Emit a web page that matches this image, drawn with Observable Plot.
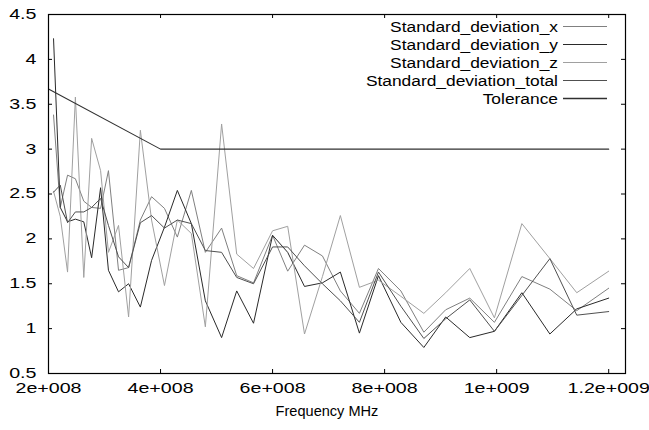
<!DOCTYPE html>
<html>
<head>
<meta charset="utf-8">
<script src="https://cdn.jsdelivr.net/npm/d3@7"></script>
<script src="https://cdn.jsdelivr.net/npm/@observablehq/plot@0.6"></script>
<style>
  html, body { margin: 0; padding: 0; background: #fff; }
  #chart { width: 649px; height: 430px; overflow: hidden; }
</style>
</head>
<body>
<div id="chart"></div>
<script>
// Frequencies (Hz)
const freq = [2.09e8, 2.21e8, 2.34e8, 2.48e8, 2.63e8, 2.77e8, 2.93e8, 3.07e8, 3.25e8, 3.43e8,
  3.64e8, 3.84e8, 4.07e8, 4.30e8, 4.55e8, 4.80e8, 5.09e8, 5.36e8, 5.66e8, 6.00e8,
  6.27e8, 6.57e8, 6.89e8, 7.21e8, 7.55e8, 7.89e8, 8.29e8, 8.70e8, 9.09e8, 9.52e8,
  9.96e8, 1.045e9, 1.095e9, 1.143e9, 1.2e9];
const sdX = [3.38, 2.35, 2.71, 2.67, 2.42, 2.35, 2.34, 2.76, 1.65, 1.68,
  2.21, 2.47, 2.34, 2.02, 2.54, 1.85, 2.12, 1.59, 1.51, 2.04,
  1.64, 1.93, 1.81, 1.42, 1.17, 1.67, 1.42, 0.96, 1.21, 1.34,
  1.07, 1.58, 1.44, 1.20, 1.45];
const sdY = [4.23, 2.35, 2.19, 2.22, 2.19, 1.79, 2.57, 1.65, 1.41, 1.50,
  1.24, 1.76, 2.13, 2.54, 2.17, 1.31, 0.90, 1.42, 1.06, 2.04,
  1.85, 1.47, 1.51, 1.63, 0.95, 1.59, 1.07, 0.79, 1.13, 0.90,
  0.97, 1.40, 0.94, 1.22, 1.34];
const sdZ = [2.53, 2.25, 1.63, 3.58, 1.57, 3.12, 2.76, 1.85, 2.15, 1.13,
  3.21, 2.21, 1.48, 2.21, 2.06, 1.02, 3.28, 1.83, 1.67, 2.09,
  2.14, 0.94, 1.58, 2.26, 1.46, 1.54, 1.36, 1.17, 1.40, 1.67,
  1.12, 2.17, 1.78, 1.40, 1.64];
const sdTotal = [2.52, 2.60, 2.18, 2.30, 2.30, 2.35, 2.45, 2.15, 1.80, 1.68,
  2.18, 2.26, 2.12, 2.21, 2.17, 1.87, 1.85, 1.57, 1.50, 1.91,
  1.91, 1.70, 1.50, 1.31, 1.07, 1.63, 1.25, 0.89, 1.11, 1.32,
  0.97, 1.37, 1.78, 1.15, 1.19];
const tolFreq = [2e8, 4e8, 1.2e9];
const tolValue = [3.67, 3.0, 3.0];

const seriesNames = ["Standard_deviation_x", "Standard_deviation_y", "Standard_deviation_z", "Standard_deviation_total", "Tolerance"];
const seriesColors = ["#808080", "#2a2a2a", "#a0a0a0", "#505050", "#303030"];

const xTicks = [2e8, 4e8, 6e8, 8e8, 1e9, 1.2e9];
const xTickLabels = ["2e+008", "4e+008", "6e+008", "8e+008", "1e+009", "1.2e+009"];
const yTicks = [0.5, 1, 1.5, 2, 2.5, 3, 3.5, 4, 4.5];
const yTickLabels = ["0.5", "1", "1.5", "2", "2.5", "3", "3.5", "4", "4.5"];
const xDomain = [2e8, 1.23e9];
const yDomain = [0.5, 4.5];
const xLabel = "Frequency MHz";

const seriesValues = [sdX, sdY, sdZ, sdTotal];
const rows = [];
seriesValues.forEach((vals, s) => vals.forEach((v, i) => rows.push({f: freq[i], v, s: seriesNames[s]})));
const tolRows = tolFreq.map((f, i) => ({f, v: tolValue[i]}));

const FONT = "'Liberation Sans', Arial, sans-serif";
const chart = Plot.plot({
  width: 649,
  height: 430,
  marginLeft: 48,
  marginRight: 24,
  marginTop: 14,
  marginBottom: 57,
  style: {fontFamily: FONT, fontSize: "14px", color: "#000", background: "#fff"},
  x: {domain: xDomain, ticks: xTicks, label: null},
  y: {domain: yDomain, ticks: yTicks, label: null},
  marks: [
    ...seriesNames.slice(0, 4).map((name, s) =>
      Plot.line(rows.filter(r => r.s === name), {x: "f", y: "v", stroke: seriesColors[s], strokeWidth: 1})
    ),
    Plot.line(tolRows, {x: "f", y: "v", stroke: seriesColors[4], strokeWidth: 1.1}),
    // inward ticks on all four sides
    Plot.ruleX(xTicks.slice(1), {y1: yDomain[0], y2: yDomain[0], insetTop: -4, stroke: "#000"}),
    Plot.ruleX(xTicks.slice(1), {y1: yDomain[1], y2: yDomain[1], insetBottom: -4, stroke: "#000"}),
    Plot.ruleY(yTicks.slice(1, -1), {x1: xDomain[0], x2: xDomain[0], insetRight: -4, stroke: "#000"}),
    Plot.ruleY(yTicks.slice(1, -1), {x1: xDomain[1], x2: xDomain[1], insetLeft: -4, stroke: "#000"}),
    Plot.frame({stroke: "#000", strokeWidth: 1.2}),
    Plot.axisX(xTicks, {tickSize: 0, tickPadding: 10, fontSize: 14, tickFormat: (d, i) => xTickLabels[i], fill: "#000"}),
    Plot.axisY(yTicks, {tickSize: 0, tickPadding: 12, fontSize: 14, tickFormat: (d, i) => yTickLabels[i], fill: "#000"})
  ]
});
document.getElementById("chart").appendChild(chart);

// gnuplot-like horizontally stretched tick labels (position untouched)
function stretch(t, k) {
  const L = t.getComputedTextLength();
  if (L > 0) {
    t.setAttribute("textLength", (L * k).toFixed(1));
    t.setAttribute("lengthAdjust", "spacingAndGlyphs");
  }
}
chart.querySelectorAll("text").forEach(t => stretch(t, 1.4));

const svg = d3.select(chart);
// axis title
const title = svg.append("text").attr("x", 327).attr("y", 416).attr("text-anchor", "middle")
  .attr("fill", "#000").style("font-family", FONT).style("font-size", "14px").text(xLabel);
stretch(title.node(), 1.04);
// legend
const legendY = [26.5, 44.5, 62.5, 80.5, 98.5];
seriesNames.forEach((name, i) => {
  const t = svg.append("text").attr("x", 558).attr("y", legendY[i]).attr("dy", "0.36em")
    .attr("text-anchor", "end").attr("fill", "#000")
    .style("font-family", FONT).style("font-size", "14px").text(name);
  stretch(t.node(), 1.24);
  svg.append("line").attr("x1", 563).attr("x2", 607).attr("y1", legendY[i]).attr("y2", legendY[i])
    .attr("stroke", seriesColors[i]).attr("stroke-width", i === 4 ? 1.6 : 1);
});
</script>
</body>
</html>
